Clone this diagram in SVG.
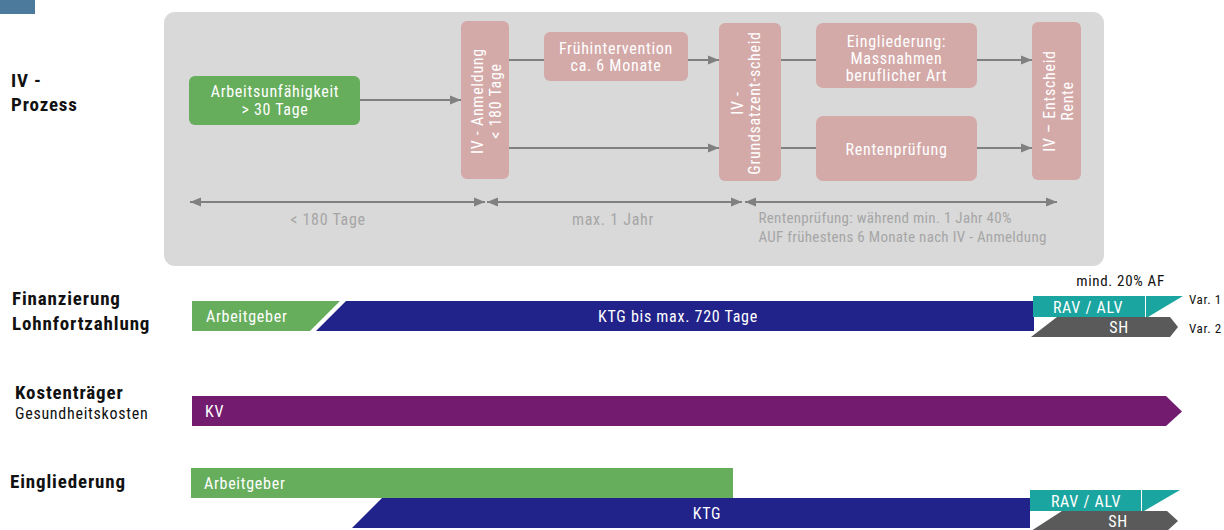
<svg xmlns="http://www.w3.org/2000/svg" width="1224" height="530" viewBox="0 0 1224 530">
<style>
text{font-family:"Roboto Condensed","Liberation Sans Narrow","Open Sans Condensed",Roboto,sans-serif;letter-spacing:0.045em;}
.w{fill:#ffffff;font-size:16px;}
.wc{fill:#ffffff;font-size:16px;text-anchor:middle;}
.dim{fill:#a6a6a6;font-size:16px;}
.dim2{fill:#a6a6a6;font-size:15px;letter-spacing:0.02em;}
.lbl{fill:#111111;font-size:19px;font-weight:bold;}
.pink{fill:#d4aaa9;}
.ln{stroke:#808080;stroke-width:2;fill:none;}
</style>
<defs>
<marker id="ah" markerUnits="userSpaceOnUse" markerWidth="12" markerHeight="10" refX="11" refY="5" orient="auto-start-reverse"><path d="M0,0.5 L11,5 L0,9.5 z" fill="#808080"/></marker>
</defs>
<rect x="0" y="0" width="35" height="14" fill="#4b7a9d"/>
<rect id="panel" x="164" y="12" width="940" height="254" rx="11" fill="#d9d9d9"/>

<g id="connectors">
<path class="ln" d="M360,100 L461,100" marker-end="url(#ah)"/>
<path class="ln" d="M509,60 L544,60"/>
<path class="ln" d="M688,60 L719,60" marker-end="url(#ah)"/>
<path class="ln" d="M509,148 L719,148" marker-end="url(#ah)"/>
<path class="ln" d="M781,60 L816,60"/>
<path class="ln" d="M977,60 L1032,60" marker-end="url(#ah)"/>
<path class="ln" d="M781,148 L816,148"/>
<path class="ln" d="M977,148 L1032,148" marker-end="url(#ah)"/>
<path class="ln" d="M190,202 L485,202" marker-start="url(#ah)" marker-end="url(#ah)"/>
<path class="ln" d="M487,202 L742,202" marker-start="url(#ah)" marker-end="url(#ah)"/>
<path class="ln" d="M745,202 L1057,202" marker-start="url(#ah)" marker-end="url(#ah)"/>
</g>

<g id="n-auf">
<rect x="189" y="76" width="171" height="49" rx="6" fill="#66ad5c"/>
<text class="wc" x="275" y="97">Arbeitsunfähigkeit</text>
<text class="wc" x="275" y="115">&gt; 30 Tage</text>
</g>
<g id="n-anmeldung">
<rect class="pink" x="461" y="21" width="48" height="158" rx="6"/>
<g transform="translate(485,101) rotate(-90)">
<text class="wc" x="0" y="-2">IV - Anmeldung</text>
<text class="wc" x="0" y="16">&lt; 180 Tage</text>
</g>
</g>
<g id="n-frueh">
<rect class="pink" x="544" y="32" width="144" height="49" rx="6"/>
<text class="wc" x="616" y="54">Frühintervention</text>
<text class="wc" x="616" y="71">ca. 6 Monate</text>
</g>
<g id="n-grundsatz">
<rect class="pink" x="719" y="23" width="62" height="158" rx="6"/>
<g transform="translate(750,103) rotate(-90)">
<text class="wc" x="0" y="-7">IV -</text>
<text class="wc" x="0" y="10">Grundsatzent-scheid</text>
</g>
</g>
<g id="n-eingl">
<rect class="pink" x="816" y="23" width="161" height="65" rx="7"/>
<text class="wc" x="896.5" y="47">Eingliederung:</text>
<text class="wc" x="896.5" y="64">Massnahmen</text>
<text class="wc" x="896.5" y="81">beruflicher Art</text>
</g>
<g id="n-rentenpr">
<rect class="pink" x="816" y="116" width="161" height="65" rx="7"/>
<text class="wc" x="896.5" y="155">Rentenprüfung</text>
</g>
<g id="n-entscheid">
<rect class="pink" x="1032" y="22" width="49" height="158" rx="6"/>
<g transform="translate(1056,101) rotate(-90)">
<text class="wc" x="0" y="-1">IV – Entscheid</text>
<text class="wc" x="0" y="17">Rente</text>
</g>
</g>

<g id="dim-labels">
<text class="dim" x="328" y="225" text-anchor="middle">&lt; 180 Tage</text>
<text class="dim" x="613" y="225" text-anchor="middle">max. 1 Jahr</text>
<text class="dim2" x="758.5" y="223">Rentenprüfung: während min. 1 Jahr 40%</text>
<text class="dim2" x="758.5" y="242">AUF frühestens 6 Monate nach IV - Anmeldung</text>
</g>

<g id="row-labels">
<text class="lbl" x="11" y="87">IV -</text>
<text class="lbl" x="11" y="111">Prozess</text>
<text class="lbl" x="12" y="305">Finanzierung</text>
<text class="lbl" x="12" y="330">Lohnfortzahlung</text>
<text class="lbl" x="15" y="399">Kostenträger</text>
<text x="15" y="419" font-size="16" fill="#111111">Gesundheitskosten</text>
<text class="lbl" x="10" y="488">Eingliederung</text>
</g>

<g id="fin-arbeitgeber">
<polygon points="192,301 340,301 310,331 192,331" fill="#66ad5c"/>
<text class="w" x="206" y="322">Arbeitgeber</text>
</g>
<g id="fin-ktg">
<polygon points="346,301 1034,301 1034,331 316,331" fill="#21238a"/>
<text class="wc" x="678" y="322">KTG bis max. 720 Tage</text>
</g>
<g id="fin-rav">
<rect x="1033" y="296" width="112" height="21" fill="#1aa5a0"/>
<polygon points="1146,296 1183,296 1148,317 1146,317" fill="#1aa5a0"/>
<text class="wc" x="1088" y="312.5">RAV / ALV</text>
</g>
<g id="fin-sh">
<polygon points="1057,317 1170,317 1178,327 1170,337 1031,337" fill="#5a5a5a"/>
<text class="wc" x="1119" y="333">SH</text>
</g>
<text x="1120.5" y="286" font-size="15" text-anchor="middle" fill="#111111">mind. 20% AF</text>
<text x="1189" y="304" font-size="13" fill="#111111">Var. 1</text>
<text x="1189" y="333" font-size="13" fill="#111111">Var. 2</text>

<g id="kv">
<polygon points="192,396 1166,396 1182,411.5 1166,426 192,426" fill="#731c6f"/>
<text class="w" x="205" y="417">KV</text>
</g>

<g id="eg-arbeitgeber">
<rect x="191" y="468" width="542" height="30" fill="#66ad5c"/>
<text class="w" x="204" y="489">Arbeitgeber</text>
</g>
<g id="eg-ktg">
<polygon points="382,498 1030,498 1030,528 352,528" fill="#21238a"/>
<text class="wc" x="707" y="519">KTG</text>
</g>
<g id="eg-rav">
<rect x="1030" y="490" width="111" height="21" fill="#1aa5a0"/>
<polygon points="1142,490 1180,490 1144,511 1142,511" fill="#1aa5a0"/>
<text class="wc" x="1086" y="506.5">RAV / ALV</text>
</g>
<g id="eg-sh">
<polygon points="1062,511 1167,511 1178,521 1167,531 1031,531" fill="#5a5a5a"/>
<text class="wc" x="1118" y="527">SH</text>
</g>
</svg>
